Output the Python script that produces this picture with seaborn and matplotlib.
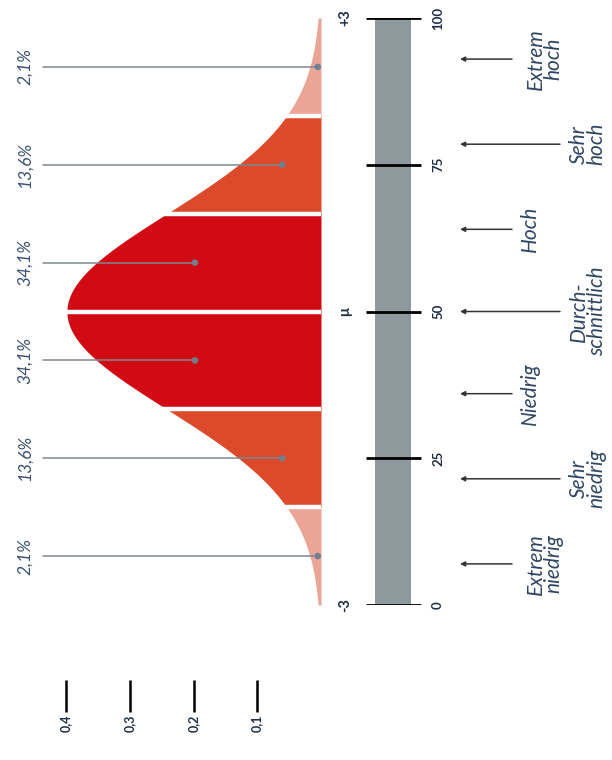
import numpy as np
import matplotlib.pyplot as plt
import seaborn as sns

sns.set_theme(style="white")
plt.rcParams['font.family'] = ['Lato', 'DejaVu Sans']

# Bands of the normal curve (in standard deviations)
band_lo = [-3, -2, -1, 0, 1, 2]
band_hi = [-2, -1, 0, 1, 2, 3]
band_pct = ["2,1%", "13,6%", "34,1%", "34,1%", "13,6%", "2,1%"]
band_colors = ["#EBA596", "#DC4A2B", "#D20A14", "#D20A14", "#DC4A2B", "#EBA596"]

# Marker dots inside each band
dot_z = [-2.5, -1.5, -0.5, 0.5, 1.5, 2.5]
dot_density = [0.005, 0.061, 0.198, 0.198, 0.061, 0.005]

# Density axis
density_ticks = [0.1, 0.2, 0.3, 0.4]
density_labels = ["0,1", "0,2", "0,3", "0,4"]

# Percentile bar
pct_ticks = [0, 25, 50, 75, 100]
sd_ticks = [0, 50, 100]
sd_labels = ["-3", "μ", "+3"]

# Categories
cat_pos = [7, 21.5, 36, 50, 64, 78.5, 93]
cat_labels = ["Extrem\nniedrig", "Sehr\nniedrig", "Niedrig", "Durch-\nschnittlich",
              "Hoch", "Sehr\nhoch", "Extrem\nhoch"]
cat_long = [False, True, False, True, False, True, False]

text_col = "#2F4663"
W, H = 612, 760
fig = plt.figure(figsize=(W / 100, H / 100), dpi=100)

# pixel helpers for layout
y0, y1 = 18, 605
bottom = (H - y1) / H
height = (y1 - y0) / H

# ---- curve axes ----
ax = fig.add_axes([0, bottom, 321 / W, height])
ax.set_xlim(321 / 637, 0)
ax.set_ylim(-3, 3)
z = np.linspace(-3, 3, 1201)
pdf = np.exp(-z ** 2 / 2) / np.sqrt(2 * np.pi)
for lo, hi, c in zip(band_lo, band_hi, band_colors):
    m = (z >= lo) & (z <= hi)
    ax.fill_betweenx(z[m], 0, pdf[m], color=c, lw=0)
for e in [-2, -1, 0, 1, 2]:
    ax.axhline(e, color="white", lw=3.2)

x_line_start = 0.437
x_label = 0.465
for zc, d, lab in zip(dot_z, dot_density, band_pct):
    ax.plot([x_line_start, d], [zc, zc], color="#7F8791", lw=1.1)
    ax.text(x_label, zc, lab, rotation=90, ha="center", va="center",
            fontsize=12.5, style="italic", color="#3A5273")
sns.scatterplot(x=dot_density, y=dot_z, ax=ax, color="#6E7F8F", s=22,
                edgecolor="none", zorder=5)

for s in ["top", "right", "left"]:
    ax.spines[s].set_visible(False)
ax.spines["bottom"].set_position(("outward", 54))
ax.spines["bottom"].set_visible(False)
ax.set_yticks([])
ax.set_xticks(density_ticks)
ax.set_xticklabels(density_labels, rotation=90, fontsize=9, fontweight="bold",
                   color="#1F2F45")
ax.tick_params(axis="x", direction="out", length=23, width=1.8, color="black",
               pad=2, bottom=True)
ax.grid(False)

# ---- percentile bar + categories axes ----
ax2 = fig.add_axes([330 / W, bottom, (W - 330) / W, height])
ax2.set_xlim(330, W)
ax2.set_ylim(0, 100)
ax2.axis("off")
ax2.bar(393, 100, width=36, bottom=0, color="#8E999E", edgecolor="none")
ax2.hlines(pct_ticks, 366, 421, color="black", lw=2)
for p in pct_ticks:
    ax2.text(438, p, str(p), rotation=90, ha="center", va="center",
             fontsize=9.5, fontweight="bold", color="#1F2F45")
for p, lab in zip(sd_ticks, sd_labels):
    ax2.text(345, p, lab, rotation=90, ha="center", va="center",
             fontsize=10.5, fontweight="bold", color="#1F2F45")

for p, lab, lg in zip(cat_pos, cat_labels, cat_long):
    x_end = 560 if lg else 512
    ax2.annotate("", xy=(460, p), xytext=(x_end, p),
                 arrowprops=dict(arrowstyle="-|>", color="#333333", lw=1.1,
                                 mutation_scale=7, shrinkA=0, shrinkB=0))
    x_txt = 588 if lg else (545 if "\n" in lab else 530)
    ax2.text(x_txt, p, lab, rotation=90, ha="center", va="center",
             fontsize=15, style="italic", color=text_col,
             multialignment="center", linespacing=0.85)

fig.savefig("out.png", dpi=100)
